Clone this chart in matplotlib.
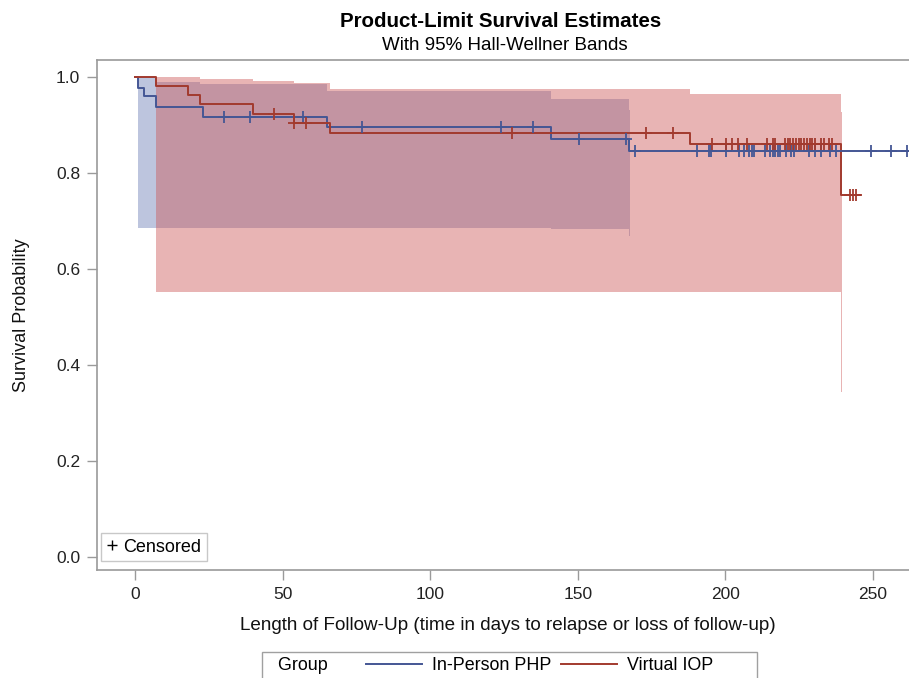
import numpy as np
import matplotlib
matplotlib.use("Agg")
import matplotlib.pyplot as plt
from matplotlib.lines import Line2D
from matplotlib.offsetbox import HPacker, DrawingArea

plt.rcParams['font.family'] = ['Liberation Sans', 'DejaVu Sans']

# In-Person PHP: Kaplan-Meier steps (day, survival after the step)
php_times = [0, 1, 3, 7, 23, 65, 141, 167.3]
php_surv = [1.0, 0.977, 0.959, 0.937, 0.916, 0.895, 0.870, 0.846]
php_end = 262
php_censor = [30, 39, 57, 77, 124, 135, 150.5, 166.4, 169.4, 190.5, 194.5, 195.3,
              200.4, 204.5, 206.5, 208, 209, 209.7, 213.5, 215.2, 216.1, 217, 218,
              218.6, 220.5, 222.2, 223.4, 228.4, 230.4, 232.5, 235.4, 237.4, 249.3,
              256.3, 261.5]
# Hall-Wellner band (step)
php_band_t = [1, 7, 22, 65, 141, 167.3, 167.7]
php_band_lo = [0.686, 0.686, 0.686, 0.686, 0.683, 0.668, 0.668]
php_band_hi = [1.0, 0.990, 0.985, 0.970, 0.953, 0.930, 0.930]

# Virtual IOP
iop_times = [0, 7, 18, 22, 40, 54, 66, 188.2, 239.3]
iop_surv = [1.0, 0.980, 0.962, 0.943, 0.922, 0.903, 0.883, 0.860, 0.754]
iop_end = 245.5
iop_censor = [47, 54, 58, 127.6, 173.3, 182.4, 195.4, 200.3, 202.3, 204.4, 207.2,
              214.2, 216.1, 217.0, 220.2, 221.2, 222.1, 223.0, 223.9, 224.9, 225.8,
              226.7, 227.7, 228.6, 229.4, 230.3, 232.6, 233.4, 235.3, 236.2, 242.4,
              243.3, 244.2]
iop_band_t = [7, 22, 40, 54, 66, 188.2, 239.3, 239.7]
iop_band_lo = [0.551, 0.551, 0.551, 0.551, 0.551, 0.551, 0.344, 0.344]
iop_band_hi = [1.0, 0.995, 0.992, 0.987, 0.975, 0.964, 0.927, 0.927]

blue = '#445694'
red = '#A23A2E'
blue_fill = '#6E80B6'
red_fill = '#CC5A5A'
gray = '#9A9A9A'


def surv_at(times, surv, t):
    idx = np.searchsorted(times, t, side='right') - 1
    return np.array(surv)[idx]


fig = plt.figure(figsize=(9.09, 6.78), dpi=100)
ax = fig.add_axes([97 / 909, 108 / 678, 813 / 909, 510 / 678])

ax.fill_between(php_band_t, php_band_lo, php_band_hi, step='post',
                color=blue_fill, alpha=0.45, linewidth=0)
ax.fill_between(iop_band_t, iop_band_lo, iop_band_hi, step='post',
                color=red_fill, alpha=0.45, linewidth=0)

ax.step(php_times + [php_end], php_surv + [php_surv[-1]], where='post',
        color=blue, lw=1.4)
ax.step(iop_times + [iop_end], iop_surv + [iop_surv[-1]], where='post',
        color=red, lw=1.4)

ax.plot(php_censor, surv_at(php_times, php_surv, php_censor), linestyle='none',
        marker='+', markersize=8, markeredgewidth=1.3, color=blue)
ax.plot(iop_censor, surv_at(iop_times, iop_surv, iop_censor), linestyle='none',
        marker='+', markersize=8, markeredgewidth=1.3, color=red)

ax.set_xlim(-12.9, 262.6)
ax.set_ylim(-0.027, 1.035)
ax.set_xticks([0, 50, 100, 150, 200, 250])
ax.set_yticks([0.0, 0.2, 0.4, 0.6, 0.8, 1.0])
ax.set_yticklabels(['0.0', '0.2', '0.4', '0.6', '0.8', '1.0'])
ax.tick_params(direction='out', length=7, width=1, color=gray,
               labelsize=12.5, labelcolor='#222222', pad=5)
for s in ['left', 'top', 'bottom']:
    ax.spines[s].set_color(gray)
    ax.spines[s].set_linewidth(1.2)
ax.spines['right'].set_visible(False)

ax.set_xlabel('Length of Follow-Up (time in days to relapse or loss of follow-up)',
              fontsize=13.6, color='#111111')
ax.xaxis.set_label_coords(0.505, -0.093)
ax.set_ylabel('Survival Probability', fontsize=13, color='#111111')
ax.yaxis.set_label_coords(-0.083, 0.5)

cens = ax.legend(handles=[Line2D([], [], marker='+', color='black', linestyle='none',
                                 markersize=7, markeredgewidth=1.0)],
                 labels=['Censored'], loc='lower left',
                 bbox_to_anchor=(4 / 813, 9 / 510), borderaxespad=0,
                 handlelength=0.6, handletextpad=0.35, fontsize=13,
                 fancybox=False, edgecolor='#C8C8C8', framealpha=1,
                 borderpad=0.3)
cens.get_frame().set_linewidth(1)

fig.text(0.551, 0.969, 'Product-Limit Survival Estimates', ha='center', va='center',
         fontsize=14.8, fontweight='bold')
fig.text(0.555, 0.933, 'With 95% Hall-Wellner Bands', ha='center', va='center',
         fontsize=13.5)

h1 = Line2D([], [], color=blue, lw=1.4)
h2 = Line2D([], [], color=red, lw=1.4)
leg = fig.legend(handles=[h1, h2], labels=['In-Person PHP', 'Virtual IOP'],
                 loc='upper center', bbox_to_anchor=(0.561, 0.0385), ncol=2,
                 title='  Group', fontsize=12.9, title_fontsize=12.9,
                 handlelength=3.1, handletextpad=0.56, columnspacing=0.56,
                 fancybox=False, edgecolor='#A0A0A0', framealpha=1,
                 borderpad=0.3, borderaxespad=0)
# put the "Group" title left of the entries, as in SAS
leg._legend_box = HPacker(pad=leg._legend_box.pad, sep=28, align='center',
                          children=[leg._legend_title_box, leg._legend_handle_box,
                                    DrawingArea(0, 1)])
leg._legend_box.set_figure(fig)
leg._set_loc(leg._loc)

fig.savefig('out.png', dpi=100)
